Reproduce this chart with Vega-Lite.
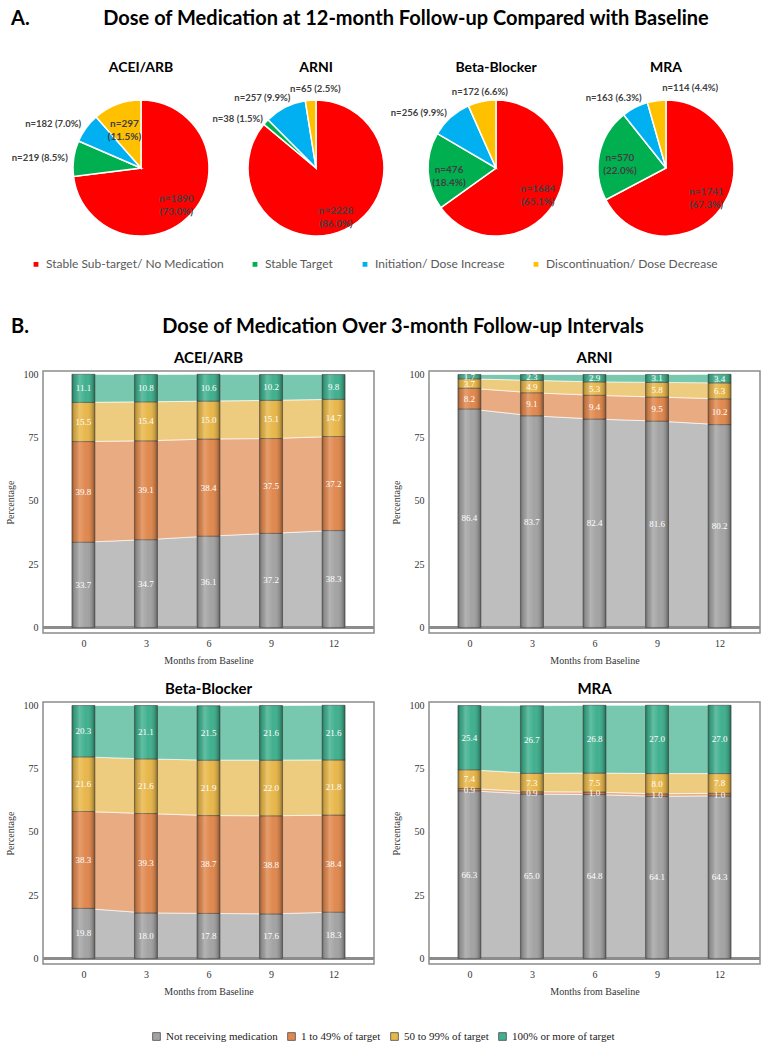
{
  "$schema": "https://vega.github.io/schema/vega-lite/v6.json",
  "padding": {"left": 4, "top": 9, "right": 0, "bottom": 0},
  "background": "white",
  "config": {
    "view": {"stroke": null},
    "legend": {"layout": {"bottom": {"anchor": "middle"}}},
    "title": {"font": "Lato", "fontSize": 14, "fontWeight": "bold", "color": "#000", "offset": 3}
  },
  "resolve": {"scale": {"color": "independent"}},
  "spacing": 0,
  "datasets": {
    "pies": [
      {"drug": "ACEI/ARB", "k": 0, "cat": "Stable Sub-target/ No Medication", "n": 1890, "lbl": "n=1890 (73.0%)"},
      {"drug": "ACEI/ARB", "k": 1, "cat": "Stable Target", "n": 219, "lbl": "n=219 (8.5%)"},
      {"drug": "ACEI/ARB", "k": 2, "cat": "Initiation/ Dose Increase", "n": 182, "lbl": "n=182 (7.0%)"},
      {"drug": "ACEI/ARB", "k": 3, "cat": "Discontinuation/ Dose Decrease", "n": 297, "lbl": "n=297 (11.5%)"},
      {"drug": "ARNI", "k": 0, "cat": "Stable Sub-target/ No Medication", "n": 2228, "lbl": "n=2228 (86.0%)"},
      {"drug": "ARNI", "k": 1, "cat": "Stable Target", "n": 38, "lbl": "n=38 (1.5%)"},
      {"drug": "ARNI", "k": 2, "cat": "Initiation/ Dose Increase", "n": 257, "lbl": "n=257 (9.9%)"},
      {"drug": "ARNI", "k": 3, "cat": "Discontinuation/ Dose Decrease", "n": 65, "lbl": "n=65 (2.5%)"},
      {"drug": "Beta-Blocker", "k": 0, "cat": "Stable Sub-target/ No Medication", "n": 1684, "lbl": "n=1684 (65.1%)"},
      {"drug": "Beta-Blocker", "k": 1, "cat": "Stable Target", "n": 476, "lbl": "n=476 (18.4%)"},
      {"drug": "Beta-Blocker", "k": 2, "cat": "Initiation/ Dose Increase", "n": 256, "lbl": "n=256 (9.9%)"},
      {"drug": "Beta-Blocker", "k": 3, "cat": "Discontinuation/ Dose Decrease", "n": 172, "lbl": "n=172 (6.6%)"},
      {"drug": "MRA", "k": 0, "cat": "Stable Sub-target/ No Medication", "n": 1741, "lbl": "n=1741 (67.3%)"},
      {"drug": "MRA", "k": 1, "cat": "Stable Target", "n": 570, "lbl": "n=570 (22.0%)"},
      {"drug": "MRA", "k": 2, "cat": "Initiation/ Dose Increase", "n": 163, "lbl": "n=163 (6.3%)"},
      {"drug": "MRA", "k": 3, "cat": "Discontinuation/ Dose Decrease", "n": 114, "lbl": "n=114 (4.4%)"}
    ],
    "doses": [
      {"drug": "ACEI/ARB", "month": 0, "k": 0, "dose": "Not receiving medication", "pct": 33.7},
      {"drug": "ACEI/ARB", "month": 0, "k": 1, "dose": "1 to 49% of target", "pct": 39.8},
      {"drug": "ACEI/ARB", "month": 0, "k": 2, "dose": "50 to 99% of target", "pct": 15.5},
      {"drug": "ACEI/ARB", "month": 0, "k": 3, "dose": "100% or more of target", "pct": 11.1},
      {"drug": "ACEI/ARB", "month": 3, "k": 0, "dose": "Not receiving medication", "pct": 34.7},
      {"drug": "ACEI/ARB", "month": 3, "k": 1, "dose": "1 to 49% of target", "pct": 39.1},
      {"drug": "ACEI/ARB", "month": 3, "k": 2, "dose": "50 to 99% of target", "pct": 15.4},
      {"drug": "ACEI/ARB", "month": 3, "k": 3, "dose": "100% or more of target", "pct": 10.8},
      {"drug": "ACEI/ARB", "month": 6, "k": 0, "dose": "Not receiving medication", "pct": 36.1},
      {"drug": "ACEI/ARB", "month": 6, "k": 1, "dose": "1 to 49% of target", "pct": 38.4},
      {"drug": "ACEI/ARB", "month": 6, "k": 2, "dose": "50 to 99% of target", "pct": 15.0},
      {"drug": "ACEI/ARB", "month": 6, "k": 3, "dose": "100% or more of target", "pct": 10.6},
      {"drug": "ACEI/ARB", "month": 9, "k": 0, "dose": "Not receiving medication", "pct": 37.2},
      {"drug": "ACEI/ARB", "month": 9, "k": 1, "dose": "1 to 49% of target", "pct": 37.5},
      {"drug": "ACEI/ARB", "month": 9, "k": 2, "dose": "50 to 99% of target", "pct": 15.1},
      {"drug": "ACEI/ARB", "month": 9, "k": 3, "dose": "100% or more of target", "pct": 10.2},
      {"drug": "ACEI/ARB", "month": 12, "k": 0, "dose": "Not receiving medication", "pct": 38.3},
      {"drug": "ACEI/ARB", "month": 12, "k": 1, "dose": "1 to 49% of target", "pct": 37.2},
      {"drug": "ACEI/ARB", "month": 12, "k": 2, "dose": "50 to 99% of target", "pct": 14.7},
      {"drug": "ACEI/ARB", "month": 12, "k": 3, "dose": "100% or more of target", "pct": 9.8},
      {"drug": "ARNI", "month": 0, "k": 0, "dose": "Not receiving medication", "pct": 86.4},
      {"drug": "ARNI", "month": 0, "k": 1, "dose": "1 to 49% of target", "pct": 8.2},
      {"drug": "ARNI", "month": 0, "k": 2, "dose": "50 to 99% of target", "pct": 3.7},
      {"drug": "ARNI", "month": 0, "k": 3, "dose": "100% or more of target", "pct": 1.7},
      {"drug": "ARNI", "month": 3, "k": 0, "dose": "Not receiving medication", "pct": 83.7},
      {"drug": "ARNI", "month": 3, "k": 1, "dose": "1 to 49% of target", "pct": 9.1},
      {"drug": "ARNI", "month": 3, "k": 2, "dose": "50 to 99% of target", "pct": 4.9},
      {"drug": "ARNI", "month": 3, "k": 3, "dose": "100% or more of target", "pct": 2.3},
      {"drug": "ARNI", "month": 6, "k": 0, "dose": "Not receiving medication", "pct": 82.4},
      {"drug": "ARNI", "month": 6, "k": 1, "dose": "1 to 49% of target", "pct": 9.4},
      {"drug": "ARNI", "month": 6, "k": 2, "dose": "50 to 99% of target", "pct": 5.3},
      {"drug": "ARNI", "month": 6, "k": 3, "dose": "100% or more of target", "pct": 2.9},
      {"drug": "ARNI", "month": 9, "k": 0, "dose": "Not receiving medication", "pct": 81.6},
      {"drug": "ARNI", "month": 9, "k": 1, "dose": "1 to 49% of target", "pct": 9.5},
      {"drug": "ARNI", "month": 9, "k": 2, "dose": "50 to 99% of target", "pct": 5.8},
      {"drug": "ARNI", "month": 9, "k": 3, "dose": "100% or more of target", "pct": 3.1},
      {"drug": "ARNI", "month": 12, "k": 0, "dose": "Not receiving medication", "pct": 80.2},
      {"drug": "ARNI", "month": 12, "k": 1, "dose": "1 to 49% of target", "pct": 10.2},
      {"drug": "ARNI", "month": 12, "k": 2, "dose": "50 to 99% of target", "pct": 6.3},
      {"drug": "ARNI", "month": 12, "k": 3, "dose": "100% or more of target", "pct": 3.4},
      {"drug": "Beta-Blocker", "month": 0, "k": 0, "dose": "Not receiving medication", "pct": 19.8},
      {"drug": "Beta-Blocker", "month": 0, "k": 1, "dose": "1 to 49% of target", "pct": 38.3},
      {"drug": "Beta-Blocker", "month": 0, "k": 2, "dose": "50 to 99% of target", "pct": 21.6},
      {"drug": "Beta-Blocker", "month": 0, "k": 3, "dose": "100% or more of target", "pct": 20.3},
      {"drug": "Beta-Blocker", "month": 3, "k": 0, "dose": "Not receiving medication", "pct": 18.0},
      {"drug": "Beta-Blocker", "month": 3, "k": 1, "dose": "1 to 49% of target", "pct": 39.3},
      {"drug": "Beta-Blocker", "month": 3, "k": 2, "dose": "50 to 99% of target", "pct": 21.6},
      {"drug": "Beta-Blocker", "month": 3, "k": 3, "dose": "100% or more of target", "pct": 21.1},
      {"drug": "Beta-Blocker", "month": 6, "k": 0, "dose": "Not receiving medication", "pct": 17.8},
      {"drug": "Beta-Blocker", "month": 6, "k": 1, "dose": "1 to 49% of target", "pct": 38.7},
      {"drug": "Beta-Blocker", "month": 6, "k": 2, "dose": "50 to 99% of target", "pct": 21.9},
      {"drug": "Beta-Blocker", "month": 6, "k": 3, "dose": "100% or more of target", "pct": 21.5},
      {"drug": "Beta-Blocker", "month": 9, "k": 0, "dose": "Not receiving medication", "pct": 17.6},
      {"drug": "Beta-Blocker", "month": 9, "k": 1, "dose": "1 to 49% of target", "pct": 38.8},
      {"drug": "Beta-Blocker", "month": 9, "k": 2, "dose": "50 to 99% of target", "pct": 22.0},
      {"drug": "Beta-Blocker", "month": 9, "k": 3, "dose": "100% or more of target", "pct": 21.6},
      {"drug": "Beta-Blocker", "month": 12, "k": 0, "dose": "Not receiving medication", "pct": 18.3},
      {"drug": "Beta-Blocker", "month": 12, "k": 1, "dose": "1 to 49% of target", "pct": 38.4},
      {"drug": "Beta-Blocker", "month": 12, "k": 2, "dose": "50 to 99% of target", "pct": 21.8},
      {"drug": "Beta-Blocker", "month": 12, "k": 3, "dose": "100% or more of target", "pct": 21.6},
      {"drug": "MRA", "month": 0, "k": 0, "dose": "Not receiving medication", "pct": 66.3},
      {"drug": "MRA", "month": 0, "k": 1, "dose": "1 to 49% of target", "pct": 0.9},
      {"drug": "MRA", "month": 0, "k": 2, "dose": "50 to 99% of target", "pct": 7.4},
      {"drug": "MRA", "month": 0, "k": 3, "dose": "100% or more of target", "pct": 25.4},
      {"drug": "MRA", "month": 3, "k": 0, "dose": "Not receiving medication", "pct": 65.0},
      {"drug": "MRA", "month": 3, "k": 1, "dose": "1 to 49% of target", "pct": 0.9},
      {"drug": "MRA", "month": 3, "k": 2, "dose": "50 to 99% of target", "pct": 7.3},
      {"drug": "MRA", "month": 3, "k": 3, "dose": "100% or more of target", "pct": 26.7},
      {"drug": "MRA", "month": 6, "k": 0, "dose": "Not receiving medication", "pct": 64.8},
      {"drug": "MRA", "month": 6, "k": 1, "dose": "1 to 49% of target", "pct": 1.0},
      {"drug": "MRA", "month": 6, "k": 2, "dose": "50 to 99% of target", "pct": 7.5},
      {"drug": "MRA", "month": 6, "k": 3, "dose": "100% or more of target", "pct": 26.8},
      {"drug": "MRA", "month": 9, "k": 0, "dose": "Not receiving medication", "pct": 64.1},
      {"drug": "MRA", "month": 9, "k": 1, "dose": "1 to 49% of target", "pct": 1.0},
      {"drug": "MRA", "month": 9, "k": 2, "dose": "50 to 99% of target", "pct": 8.0},
      {"drug": "MRA", "month": 9, "k": 3, "dose": "100% or more of target", "pct": 27.0},
      {"drug": "MRA", "month": 12, "k": 0, "dose": "Not receiving medication", "pct": 64.3},
      {"drug": "MRA", "month": 12, "k": 1, "dose": "1 to 49% of target", "pct": 1.0},
      {"drug": "MRA", "month": 12, "k": 2, "dose": "50 to 99% of target", "pct": 7.8},
      {"drug": "MRA", "month": 12, "k": 3, "dose": "100% or more of target", "pct": 27.0}
    ]
  },
  "vconcat": [
    {
      "spacing": 0,
      "hconcat": [
        {"width": 20, "height": 28, "data": {"values": []}, "mark": "point",
         "title": {"text": "A.", "anchor": "start", "fontSize": 20, "offset": 4, "dx": -32}},
        {"width": 686, "height": 28, "data": {"values": []}, "mark": "point",
         "title": {"text": "Dose of Medication at 12-month Follow-up Compared with Baseline", "anchor": "middle", "fontSize": 20, "offset": 4}}
      ]
    },
    {
      "spacing": 0,
      "bounds": "flush",
      "data": {"name": "pies"},
      "hconcat": [
        {
          "width": 196, "height": 180, "title": "ACEI/ARB",
          "transform": [{"filter": "datum.drug == 'ACEI/ARB'"}],
          "layer": [
            {"mark": {"type": "arc", "outerRadius": 68, "stroke": "white", "strokeWidth": 1.5},
             "encoding": {
               "theta": {"field": "n", "type": "quantitative", "stack": true},
               "color": {"field": "cat", "type": "nominal",
                 "scale": {"domain": ["Stable Sub-target/ No Medication", "Stable Target", "Initiation/ Dose Increase", "Discontinuation/ Dose Decrease"], "range": ["#FF0000", "#00B050", "#00B0F0", "#FFC000"]},
                 "legend": {"orient": "bottom", "direction": "horizontal", "title": null, "symbolType": "square", "symbolSize": 40, "labelFont": "Lato", "labelFontSize": 12, "labelColor": "#595959", "labelLimit": 400, "columnPadding": 24, "offset": 0}},
               "order": {"field": "k", "type": "quantitative"}}},
            {"mark": {"type": "text", "radius": 47, "font": "Lato", "fontSize": 10, "fontWeight": "bold", "fill": "#404040", "lineBreak": " ", "lineHeight": 13},
             "encoding": {"theta": {"field": "n", "type": "quantitative", "stack": true}, "detail": {"field": "cat"}, "order": {"field": "k", "type": "quantitative"},
               "text": {"condition": {"test": "datum.k == 0 || datum.k == 3", "field": "lbl"}, "value": ""}}},
            {"mark": {"type": "text", "radius": 74, "align": "right", "baseline": "middle", "font": "Lato", "fontSize": 9.5, "fontWeight": "bold", "fill": "#404040"},
             "encoding": {"theta": {"field": "n", "type": "quantitative", "stack": true}, "detail": {"field": "cat"}, "order": {"field": "k", "type": "quantitative"},
               "text": {"condition": {"test": "datum.k == 1 || datum.k == 2", "field": "lbl"}, "value": ""}}}
          ]
        },
        {
          "width": 154, "height": 180, "title": "ARNI",
          "transform": [{"filter": "datum.drug == 'ARNI'"}],
          "layer": [
            {"mark": {"type": "arc", "outerRadius": 68, "stroke": "white", "strokeWidth": 1.5},
             "encoding": {"theta": {"field": "n", "type": "quantitative", "stack": true}, "color": {"field": "cat", "type": "nominal"}, "order": {"field": "k", "type": "quantitative"}}},
            {"mark": {"type": "text", "radius": 47, "font": "Lato", "fontSize": 10, "fontWeight": "bold", "fill": "#404040", "lineBreak": " ", "lineHeight": 13},
             "encoding": {"theta": {"field": "n", "type": "quantitative", "stack": true}, "detail": {"field": "cat"}, "order": {"field": "k", "type": "quantitative"},
               "text": {"condition": {"test": "datum.k == 0", "field": "lbl"}, "value": ""}}},
            {"mark": {"type": "text", "radius": 72, "align": "right", "baseline": "middle", "font": "Lato", "fontSize": 9.5, "fontWeight": "bold", "fill": "#404040"},
             "encoding": {"theta": {"field": "n", "type": "quantitative", "stack": true}, "detail": {"field": "cat"}, "order": {"field": "k", "type": "quantitative"},
               "text": {"condition": {"test": "datum.k == 1", "field": "lbl"}, "value": ""}}},
            {"mark": {"type": "text", "radius": 75, "thetaOffset": 0.12, "align": "right", "baseline": "middle", "font": "Lato", "fontSize": 9.5, "fontWeight": "bold", "fill": "#404040"},
             "encoding": {"theta": {"field": "n", "type": "quantitative", "stack": true}, "detail": {"field": "cat"}, "order": {"field": "k", "type": "quantitative"},
               "text": {"condition": {"test": "datum.k == 2", "field": "lbl"}, "value": ""}}},
            {"mark": {"type": "text", "radius": 79, "thetaOffset": 0.07, "align": "center", "baseline": "middle", "font": "Lato", "fontSize": 9.5, "fontWeight": "bold", "fill": "#404040"},
             "encoding": {"theta": {"field": "n", "type": "quantitative", "stack": true}, "detail": {"field": "cat"}, "order": {"field": "k", "type": "quantitative"},
               "text": {"condition": {"test": "datum.k == 3", "field": "lbl"}, "value": ""}}}
          ]
        },
        {
          "width": 206, "height": 180, "title": "Beta-Blocker",
          "transform": [{"filter": "datum.drug == 'Beta-Blocker'"}],
          "layer": [
            {"mark": {"type": "arc", "outerRadius": 68, "stroke": "white", "strokeWidth": 1.5},
             "encoding": {"theta": {"field": "n", "type": "quantitative", "stack": true}, "color": {"field": "cat", "type": "nominal"}, "order": {"field": "k", "type": "quantitative"}}},
            {"mark": {"type": "text", "radius": 47, "font": "Lato", "fontSize": 10, "fontWeight": "bold", "fill": "#404040", "lineBreak": " ", "lineHeight": 13},
             "encoding": {"theta": {"field": "n", "type": "quantitative", "stack": true}, "detail": {"field": "cat"}, "order": {"field": "k", "type": "quantitative"},
               "text": {"condition": {"test": "datum.k == 0 || datum.k == 1", "field": "lbl"}, "value": ""}}},
            {"mark": {"type": "text", "radius": 74, "align": "right", "baseline": "middle", "font": "Lato", "fontSize": 9.5, "fontWeight": "bold", "fill": "#404040"},
             "encoding": {"theta": {"field": "n", "type": "quantitative", "stack": true}, "detail": {"field": "cat"}, "order": {"field": "k", "type": "quantitative"},
               "text": {"condition": {"test": "datum.k == 2", "field": "lbl"}, "value": ""}}},
            {"mark": {"type": "text", "radius": 78, "align": "center", "baseline": "middle", "font": "Lato", "fontSize": 9.5, "fontWeight": "bold", "fill": "#404040"},
             "encoding": {"theta": {"field": "n", "type": "quantitative", "stack": true}, "detail": {"field": "cat"}, "order": {"field": "k", "type": "quantitative"},
               "text": {"condition": {"test": "datum.k == 3", "field": "lbl"}, "value": ""}}}
          ]
        },
        {
          "width": 134, "height": 180, "title": "MRA",
          "transform": [{"filter": "datum.drug == 'MRA'"}],
          "layer": [
            {"mark": {"type": "arc", "outerRadius": 68, "stroke": "white", "strokeWidth": 1.5},
             "encoding": {"theta": {"field": "n", "type": "quantitative", "stack": true}, "color": {"field": "cat", "type": "nominal"}, "order": {"field": "k", "type": "quantitative"}}},
            {"mark": {"type": "text", "radius": 47, "font": "Lato", "fontSize": 10, "fontWeight": "bold", "fill": "#404040", "lineBreak": " ", "lineHeight": 13},
             "encoding": {"theta": {"field": "n", "type": "quantitative", "stack": true}, "detail": {"field": "cat"}, "order": {"field": "k", "type": "quantitative"},
               "text": {"condition": {"test": "datum.k == 0 || datum.k == 1", "field": "lbl"}, "value": ""}}},
            {"mark": {"type": "text", "radius": 74, "thetaOffset": 0.14, "align": "right", "baseline": "middle", "font": "Lato", "fontSize": 9.5, "fontWeight": "bold", "fill": "#404040"},
             "encoding": {"theta": {"field": "n", "type": "quantitative", "stack": true}, "detail": {"field": "cat"}, "order": {"field": "k", "type": "quantitative"},
               "text": {"condition": {"test": "datum.k == 2", "field": "lbl"}, "value": ""}}},
            {"mark": {"type": "text", "radius": 80, "thetaOffset": 0.09, "align": "left", "baseline": "middle", "font": "Lato", "fontSize": 9.5, "fontWeight": "bold", "fill": "#404040"},
             "encoding": {"theta": {"field": "n", "type": "quantitative", "stack": true}, "detail": {"field": "cat"}, "order": {"field": "k", "type": "quantitative"},
               "text": {"condition": {"test": "datum.k == 3", "field": "lbl"}, "value": ""}}}
          ]
        }
      ]
    },
    {"width": 10, "height": 46, "data": {"values": []}, "mark": "point"},
    {
      "spacing": 0,
      "hconcat": [
        {"width": 20, "height": 8, "data": {"values": []}, "mark": "point",
         "title": {"text": "B.", "anchor": "start", "fontSize": 20, "offset": 4, "dx": -32}},
        {"width": 680, "height": 8, "data": {"values": []}, "mark": "point",
         "title": {"text": "Dose of Medication Over 3-month Follow-up Intervals", "anchor": "middle", "fontSize": 20, "offset": 4}}
      ]
    },
    {
      "data": {"name": "doses"},
      "columns": 2,
      "spacing": {"row": 14, "column": 14},
      "facet": {"field": "drug", "type": "nominal",
        "header": {"title": null, "labelFont": "Lato", "labelFontSize": 15, "labelFontWeight": "bold", "labelColor": "#000", "labelPadding": 4}},
      "resolve": {"axis": {"x": "independent", "y": "independent"}},
      "spec": {
        "width": 331, "height": 262,
        "view": {"stroke": "#8c8c8c", "strokeWidth": 1.5},
        "layer": [
          {"mark": {"type": "area", "opacity": 0.7, "stroke": "#ffffff", "strokeWidth": 0.7},
           "encoding": {
             "x": {"field": "month", "type": "quantitative",
               "scale": {"domain": [-1.7, 13.7], "nice": false, "zero": false},
               "axis": {"values": [0, 3, 6, 9, 12], "title": "Months from Baseline", "ticks": false, "domain": false, "grid": false,
                 "labelFont": "Liberation Serif", "labelFontSize": 10, "labelColor": "#333", "labelPadding": 5,
                 "titleFont": "Liberation Serif", "titleFontSize": 10, "titleFontWeight": "normal", "titleColor": "#333", "titlePadding": 7}},
             "y": {"field": "pct", "type": "quantitative", "stack": "zero",
               "scale": {"domain": [-2.2, 101.4], "nice": false, "zero": false},
               "axis": {"values": [0, 25, 50, 75, 100], "title": "Percentage", "ticks": false, "domain": false, "grid": false,
                 "labelFont": "Liberation Serif", "labelFontSize": 10, "labelColor": "#333", "labelPadding": 5,
                 "titleFont": "Liberation Serif", "titleFontSize": 10, "titleFontWeight": "normal", "titleColor": "#333", "titlePadding": 8}},
             "color": {"field": "dose", "type": "nominal",
               "scale": {"domain": ["Not receiving medication", "1 to 49% of target", "50 to 99% of target", "100% or more of target"], "range": ["#a3a3a3", "#e0884e", "#e8b74a", "#40b08e"]},
               "legend": {"orient": "bottom", "direction": "horizontal", "title": null, "symbolType": "square", "symbolSize": 60, "symbolStrokeColor": "#444", "symbolStrokeWidth": 0.8, "symbolOpacity": 1, "labelFont": "Liberation Serif", "labelFontSize": 11, "labelColor": "#222", "labelLimit": 400, "columnPadding": 8, "offset": 34}},
             "order": {"field": "k", "type": "quantitative"}}},
          {"mark": {"type": "rule", "color": "#8c8c8c", "strokeWidth": 1.5},
           "encoding": {"y": {"datum": 0}}},
          {"mark": {"type": "bar", "width": 23, "orient": "vertical", "stroke": "#4d4d4d", "strokeWidth": 0.6},
           "encoding": {
             "x": {"field": "month", "type": "quantitative"},
             "y": {"field": "pct", "type": "quantitative", "stack": "zero"},
             "color": {"field": "dose", "type": "nominal"},
             "order": {"field": "k", "type": "quantitative"}}},
          {"mark": {"type": "bar", "width": 23, "orient": "vertical",
             "fill": {"gradient": "linear", "x1": 0, "x2": 1, "y1": 0, "y2": 0,
               "stops": [
                 {"offset": 0, "color": "rgba(0,0,0,0.35)"},
                 {"offset": 0.12, "color": "rgba(0,0,0,0.1)"},
                 {"offset": 0.32, "color": "rgba(255,255,255,0.18)"},
                 {"offset": 0.6, "color": "rgba(255,255,255,0)"},
                 {"offset": 0.88, "color": "rgba(0,0,0,0.15)"},
                 {"offset": 1, "color": "rgba(0,0,0,0.4)"}]}},
           "encoding": {
             "x": {"field": "month", "type": "quantitative"},
             "y": {"field": "pct", "type": "quantitative", "stack": "zero"},
             "detail": {"field": "dose"},
             "order": {"field": "k", "type": "quantitative"}}},
          {"mark": {"type": "text", "font": "Liberation Serif", "fontSize": 9, "fill": "white"},
           "encoding": {
             "x": {"field": "month", "type": "quantitative"},
             "y": {"field": "pct", "type": "quantitative", "stack": "zero", "bandPosition": 0.5},
             "detail": {"field": "dose"},
             "order": {"field": "k", "type": "quantitative"},
             "text": {"field": "pct", "type": "quantitative", "format": ".1f"}}}
        ]
      }
    }
  ]
}
